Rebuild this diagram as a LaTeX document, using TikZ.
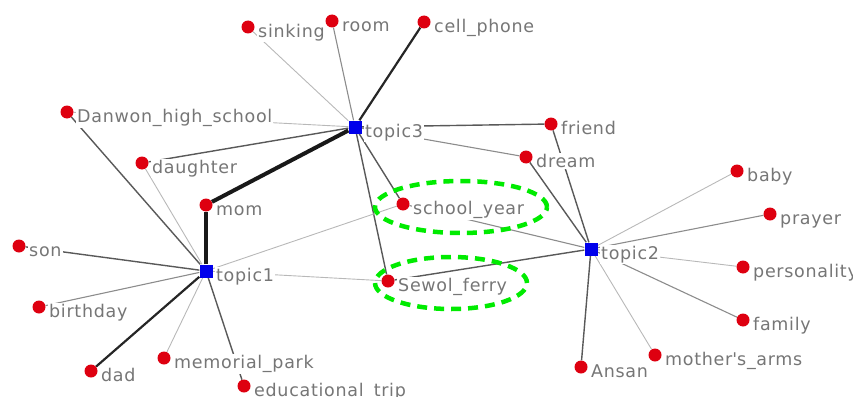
\documentclass[tikz,border=0pt]{standalone}
\usepackage{fontspec}
\newfontfamily\labfont[LetterSpace=4]{DejaVu Sans}
\usetikzlibrary{backgrounds,shapes.geometric}
\definecolor{dotred}{RGB}{222,0,16}
\definecolor{topicblue}{RGB}{0,0,235}
\definecolor{labgray}{RGB}{118,118,118}
\definecolor{hlgreen}{RGB}{0,235,0}
\newcommand\wnode[4]{%
  \node[lab] (#1L) at (#2+9,#3+10.5) {#4};
  \node[dot] (#1) at (#2,#3) {};}
\newcommand\tnode[4]{%
  \node[lab] (#1L) at (#2+9,#3+10.5) {#4};
  \node[topic] (#1) at (#2,#3) {};}
\begin{document}
\begin{tikzpicture}[x=1pt,y=-1pt,
  dot/.style={circle,fill=dotred,inner sep=0pt,minimum size=13pt},
  topic/.style={rectangle,fill=topicblue,inner sep=0pt,minimum size=13pt},
  lab/.style={anchor=base west,font=\labfont\fontsize{17.5}{20}\selectfont,text=labgray,fill=white,inner sep=1pt},
  ea/.style={line width=4pt,black!90},
  eb/.style={line width=2.2pt,black!85},
  ec/.style={line width=1.4pt,black!65},
  ed/.style={line width=1.1pt,black!45},
  ee/.style={line width=0.9pt,black!28},
  hl/.style={ellipse,draw=hlgreen,line width=4.5pt,dash pattern=on 10pt off 7pt,inner sep=0pt}
]
\useasboundingbox (0,0) rectangle (853,396);
\tnode{topicthree}{355}{127}{topic3}
\tnode{topicone}{206}{271}{topic1}
\tnode{topictwo}{591}{249}{topic2}
\wnode{sinking}{248}{27}{sinking}
\wnode{room}{332}{21}{room}
\wnode{cellphone}{424}{22}{cell\_phone}
\wnode{danwon}{67}{112}{Danwon\_high\_school}
\wnode{daughter}{142}{163}{daughter}
\wnode{mom}{206}{205}{mom}
\wnode{son}{19}{246}{son}
\wnode{birthday}{39}{307}{birthday}
\wnode{dad}{91}{371}{dad}
\wnode{memorial}{164}{358}{memorial\_park}
\wnode{edutrip}{244}{386}{educational\_trip}
\wnode{schoolyear}{403}{204}{school\_year}
\wnode{sewol}{388}{281}{Sewol\_ferry}
\wnode{friend}{551}{124}{friend}
\wnode{dream}{526}{157}{dream}
\wnode{baby}{737}{171}{baby}
\wnode{prayer}{770}{214}{prayer}
\wnode{personality}{743}{267}{personality}
\wnode{family}{743}{320}{family}
\wnode{mothersarms}{655}{355}{mother\textquotesingle s\_arms}
\wnode{ansan}{581}{367}{Ansan}
\begin{scope}[on background layer]
  \draw[ee] (topicthree) -- (sinking);
  \draw[ed] (topicthree) -- (room);
  \draw[eb] (topicthree) -- (cellphone);
  \draw[ee] (topicthree) -- (danwon);
  \draw[ec] (topicthree) -- (daughter);
  \draw[ea] (topicthree) -- (mom);
  \draw[ec] (topicthree) -- (schoolyear);
  \draw[ec] (topicthree) -- (sewol);
  \draw[ec] (topicthree) -- (friend);
  \draw[ed] (topicthree) -- (dream);
  \draw[ec] (topicone) -- (danwon);
  \draw[ee] (topicone) -- (daughter);
  \draw[ea] (topicone) -- (mom);
  \draw[ec] (topicone) -- (son);
  \draw[ed] (topicone) -- (birthday);
  \draw[eb] (topicone) -- (dad);
  \draw[ee] (topicone) -- (memorial);
  \draw[ec] (topicone) -- (edutrip);
  \draw[ee] (topicone) -- (schoolyear);
  \draw[ee] (topicone) -- (sewol);
  \draw[ed] (topictwo) -- (schoolyear);
  \draw[ec] (topictwo) -- (sewol);
  \draw[ec] (topictwo) -- (friend);
  \draw[ec] (topictwo) -- (dream);
  \draw[ee] (topictwo) -- (baby);
  \draw[ed] (topictwo) -- (prayer);
  \draw[ee] (topictwo) -- (personality);
  \draw[ed] (topictwo) -- (family);
  \draw[ee] (topictwo) -- (mothersarms);
  \draw[ec] (topictwo) -- (ansan);
\end{scope}
\node[hl,minimum width=172pt,minimum height=52pt] (hlone) at (461,207) {};
\node[hl,minimum width=152pt,minimum height=52pt] (hltwo) at (451,283) {};
\end{tikzpicture}
\end{document}
